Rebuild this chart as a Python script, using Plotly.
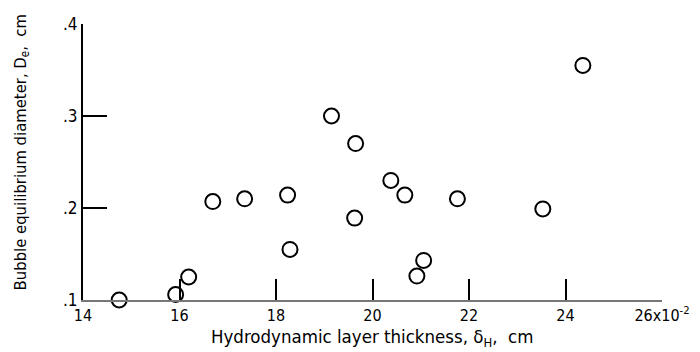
import plotly.graph_objects as go

# Data
thickness = [14.75, 15.92, 16.19, 16.69, 17.35, 18.24, 18.29, 19.15, 19.65, 19.63,
             20.38, 20.67, 21.06, 20.92, 21.76, 23.53, 24.36]
diameter = [0.100, 0.106, 0.125, 0.207, 0.210, 0.214, 0.155, 0.300, 0.270, 0.189,
            0.230, 0.214, 0.143, 0.126, 0.210, 0.199, 0.355]

x_tickvals = [14, 16, 18, 20, 22, 24, 26]
x_ticktext = ["14", "16", "18", "20", "22", "24", "26x10<sup>-2</sup>"]
y_tickvals = [0.1, 0.2, 0.3, 0.4]
y_ticktext = [".1", ".2", ".3", ".4"]

FONT = "DejaVu Sans Condensed, DejaVu Sans, sans-serif"

fig = go.Figure()
fig.add_trace(go.Scatter(
    x=thickness, y=diameter, mode="markers",
    marker=dict(symbol="circle-open", size=15, color="black", line=dict(width=2, color="black")),
    cliponaxis=False, showlegend=False,
))

# page body has an 8px margin; the figure is offset by 8px in the window
fig.update_layout(
    width=692, height=344,
    margin=dict(l=75, r=38, t=16, b=52),
    paper_bgcolor="white", plot_bgcolor="white",
    font=dict(family=FONT, size=17, color="black"),
    xaxis=dict(range=[14, 26], tickvals=x_tickvals, ticktext=x_ticktext, automargin=False,
               ticks="inside", ticklen=21, tickwidth=2, tickcolor="black",
               showline=True, linecolor="#777", linewidth=1.5,
               showgrid=False, zeroline=False, tickfont=dict(size=16)),
    yaxis=dict(range=[0.1, 0.4], tickvals=y_tickvals, ticktext=y_ticktext, automargin=False,
               ticks="inside", ticklen=24, tickwidth=2, tickcolor="black",
               showline=True, linecolor="black", linewidth=2,
               showgrid=False, zeroline=False, tickfont=dict(size=17)),
    annotations=[
        dict(text="Hydrodynamic layer thickness, δ<sub>H</sub>,  cm",
             xref="paper", yref="paper", x=0.499, y=-0.138, xanchor="center", yanchor="middle",
             showarrow=False, font=dict(size=18.5)),
        dict(text="Bubble equilibrium diameter, D<sub>e</sub>,  cm",
             xref="paper", yref="paper", x=-0.107, y=0.535, xanchor="center", yanchor="middle",
             textangle=-90, showarrow=False, font=dict(size=16.5)),
    ],
)

fig.write_html("out.html")
